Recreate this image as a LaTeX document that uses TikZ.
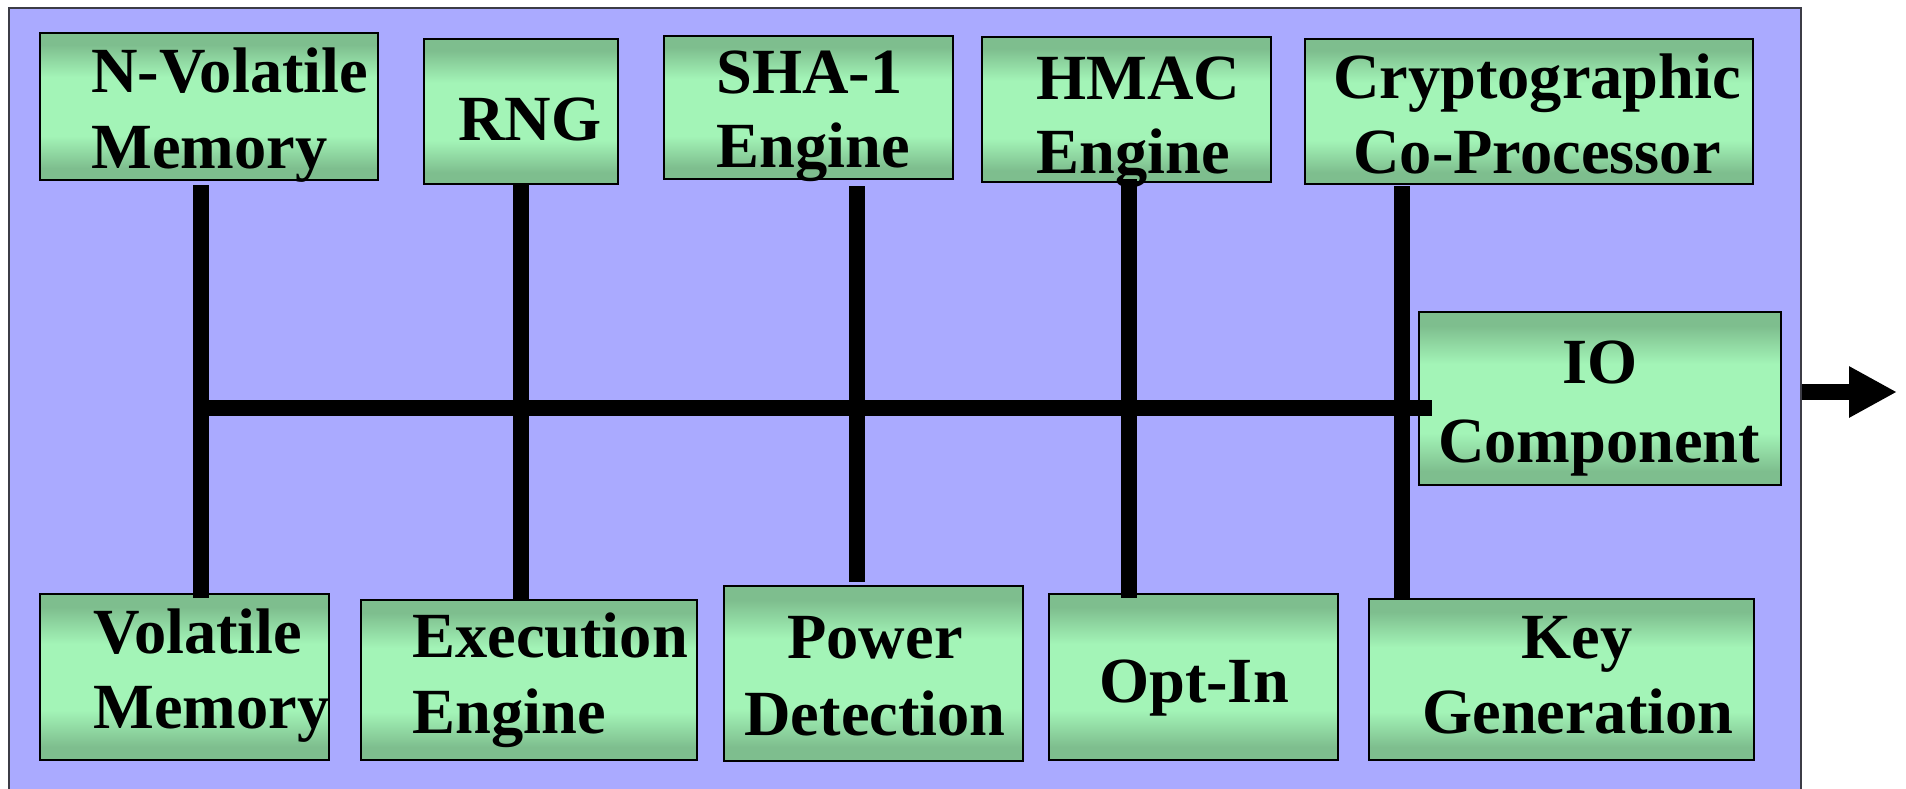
\documentclass[tikz,border=0pt]{standalone}
\usepackage{fontspec}
\setmainfont{Liberation Serif}
\usetikzlibrary{fit,calc,arrows.meta}

\definecolor{chipfill}{RGB}{170,170,255}
\definecolor{chipedge}{RGB}{60,60,70}
\definecolor{gdark}{RGB}{126,190,142}
\definecolor{glight}{RGB}{163,244,183}

% light band in the middle of each unit, darker at top and bottom
\pgfdeclareverticalshading{greenbar}{100bp}{color(0bp)=(gdark); color(29bp)=(gdark); color(40bp)=(glight); color(60bp)=(glight); color(71bp)=(gdark); color(100bp)=(gdark)}

\tikzset{
  chip/.style={draw=chipedge, line width=1pt, fill=chipfill, inner sep=0pt},
  unitbox/.style={draw=black, line width=1.2pt, shade, shading=greenbar, inner sep=0pt},
  lbl/.style={inner sep=0pt, font=\fontsize{32.2}{38}\selectfont\bfseries, anchor=base},
  lbll/.style={lbl, anchor=base west},
  bus/.style={line width=8pt, line cap=butt},
  outarrow/.style={line width=8pt, -{Triangle[length=24pt,width=24pt]}},
}

\begin{document}
\begin{tikzpicture}[x=0.5pt, y=-0.5pt]
\useasboundingbox (0,0) rectangle (1906,788);

% chip outline
\node[chip, fit={(9,8) (1801,790)}] (chip) {};

% top row of units
\node[unitbox, fit={(40,33) (378,180)}]    (nv)  {};
\node[unitbox, fit={(424,39) (618,184)}]   (rng) {};
\node[unitbox, fit={(664,36) (953,179)}]   (sha) {};
\node[unitbox, fit={(982,37) (1271,182)}]  (hmac) {};
\node[unitbox, fit={(1305,39) (1753,184)}] (cop) {};

% I/O unit
\node[unitbox, fit={(1419,312) (1781,485)}] (io) {};

% bottom row of units
\node[unitbox, fit={(40,594) (329,760)}]    (vm) {};
\node[unitbox, fit={(361,600) (697,760)}]   (ee) {};
\node[unitbox, fit={(724,586) (1023,761)}]  (pd) {};
\node[unitbox, fit={(1049,594) (1338,760)}] (oi) {};
\node[unitbox, fit={(1369,599) (1754,760)}] (kg) {};

% labels
\node[lbll] (nv-a) at (91,92)  {N-Volatile};
\node[lbll] (nv-b) at (91,168) {Memory};
\node[lbl]  (rng-a) at (530,140) {RNG};
\node[lbll] (sha-a) at (716,93)  {SHA-1};
\node[lbll] (sha-b) at (716,167) {Engine};
\node[lbll] (hmac-a) at (1036,99)  {HMAC};
\node[lbll] (hmac-b) at (1036,173) {Engine};
\node[lbl]  (cop-a) at (1537,98)  {Cryptographic};
\node[lbl]  (cop-b) at (1537,173) {Co-Processor};
\node[lbl]  (io-a) at (1600,383) {IO};
\node[lbl]  (io-b) at (1599,462) {Component};
\node[lbll] (vm-a) at (93,653) {Volatile};
\node[lbll] (vm-b) at (93,728) {Memory};
\node[lbll] (ee-a) at (412,657) {Execution};
\node[lbll] (ee-b) at (412,733) {Engine};
\node[lbl]  (pd-a) at (875,658) {Power};
\node[lbl]  (pd-b) at (875,735) {Detection};
\node[lbl]  (oi-a) at (1194,702) {Opt-In};
\node[lbl]  (kg-a) at (1577,658) {Key};
\node[lbl]  (kg-b) at (1578,733) {Generation};

% bus columns
\coordinate (c1) at (201,0);
\coordinate (c2) at (521,0);
\coordinate (c3) at (857,0);
\coordinate (c4) at (1129,0);
\coordinate (c5) at (1402,0);
\coordinate (busL) at (193,408);
\coordinate (out) at (1897,392);

\draw[bus] ($(c1 |- nv.south)+(0,4)$)   -- ($(c1 |- vm.north)+(0,5)$);
\draw[bus] (c2 |- rng.south)            -- (c2 |- ee.north);
\draw[bus] ($(c3 |- sha.south)+(0,6)$)  -- ($(c3 |- pd.north)+(0,-3)$);
\draw[bus] ($(c4 |- hmac.south)+(0,-4)$) -- ($(c4 |- oi.north)+(0,5)$);
\draw[bus] ($(c5 |- cop.south)+(0,1)$)  -- (c5 |- kg.north);
\draw[bus] (busL) -- ($(io.west |- busL)+(14,0)$);

% output of the chip
\draw[outarrow] (chip.east |- out) -- (out);
\end{tikzpicture}
\end{document}
